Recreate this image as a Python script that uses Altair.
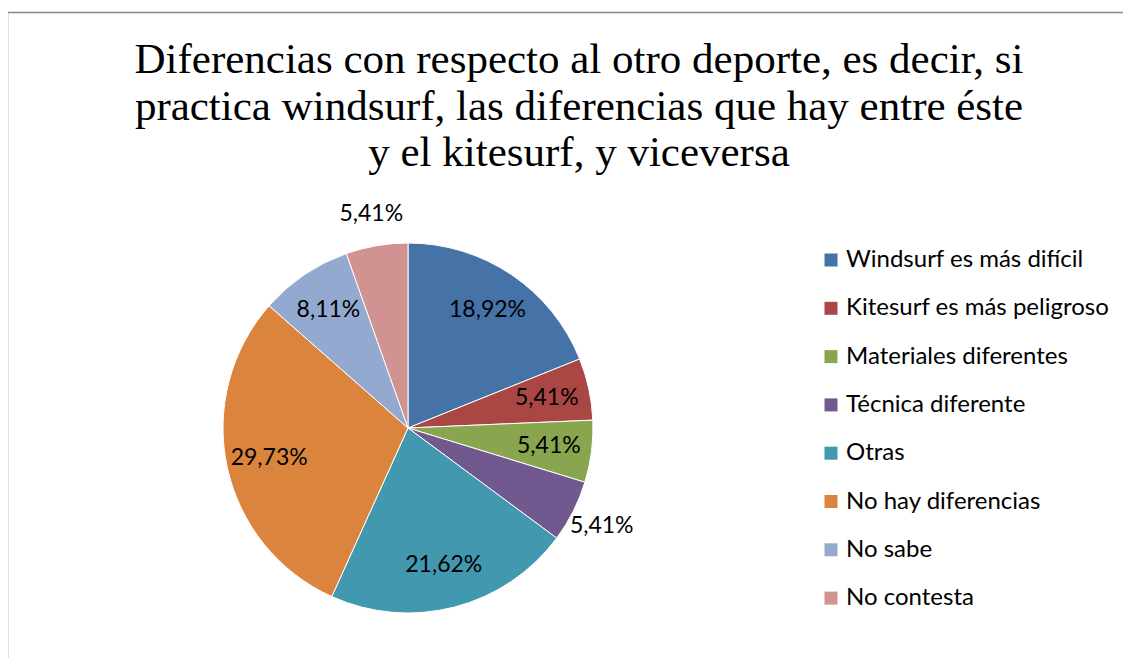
import altair as alt
import pandas as pd

title_lines = [
    "Diferencias con respecto al otro deporte, es decir, si",
    "practica windsurf, las diferencias que hay entre éste",
    "y el kitesurf, y viceversa",
]
categories = [
    "Windsurf es más difícil",
    "Kitesurf es más peligroso",
    "Materiales diferentes",
    "Técnica diferente",
    "Otras",
    "No hay diferencias",
    "No sabe",
    "No contesta",
]
values = [18.92, 5.41, 5.41, 5.41, 21.62, 29.73, 8.11, 5.41]
labels = ["18,92%", "5,41%", "5,41%", "5,41%", "21,62%", "29,73%", "8,11%", "5,41%"]
outside = [False, False, False, True, False, False, False, True]
colors = ["#4572A7", "#AA4643", "#89A54E", "#71588F", "#4198AF", "#DB843D", "#93A9CF", "#D19392"]

df = pd.DataFrame({
    "cat": categories,
    "value": values,
    "label": labels,
    "outside": outside,
    "idx": list(range(len(categories))),
})

CX, CY, R = 400, 420, 185

base = alt.Chart(df).encode(
    theta=alt.Theta("value:Q", stack=True),
    order=alt.Order("idx:Q", sort="ascending"),
)

arcs = base.mark_arc(radius=R, stroke="white", strokeWidth=1).encode(
    x=alt.value(CX),
    y=alt.value(CY),
    color=alt.Color(
        "cat:N",
        sort=categories,
        scale=alt.Scale(domain=categories, range=colors),
        legend=alt.Legend(
            title=None,
            orient="none",
            legendX=811,
            legendY=240,
            padding=0,
            symbolType="square",
            symbolSize=169,
            symbolStrokeWidth=0,
            labelFont="Lato",
            labelFontSize=24,
            labelColor="black",
            labelOffset=3,
            rowPadding=24.3,
            labelLimit=400,
        ),
    ),
)

texts_in = base.transform_calculate(
    t="datum.outside ? '' : datum.label"
).mark_text(font="Lato", fontSize=23, color="black", radius=142).encode(
    x=alt.value(CX),
    y=alt.value(CY),
    text="t:N",
)

texts_out = base.transform_calculate(
    t="datum.outside ? datum.label : ''"
).mark_text(font="Lato", fontSize=23, color="black", radius=217).encode(
    x=alt.value(CX),
    y=alt.value(CY),
    text="t:N",
)

title = alt.Chart(pd.DataFrame({"t": [0]})).mark_text(
    text=title_lines,
    font="Liberation Serif",
    fontSize=43,
    lineHeight=46.5,
    baseline="alphabetic",
    align="center",
    color="black",
).encode(x=alt.value(571), y=alt.value(65))

border_top = alt.Chart(pd.DataFrame({"t": [0]})).mark_rule(
    color="#868686", strokeWidth=1.5
).encode(x=alt.value(-1), x2=alt.value(1130), y=alt.value(4.5))
border_left = alt.Chart(pd.DataFrame({"t": [0]})).mark_rule(
    color="#868686", strokeWidth=1.5
).encode(x=alt.value(-0.5), y=alt.value(4), y2=alt.value(700))

chart = alt.layer(border_top, border_left, title, arcs, texts_in, texts_out).properties(
    width=1115,
    height=650,
    autosize=alt.AutoSizeParams(type="none"),
    padding=0,
).configure_view(stroke=None)

chart.save("out.html", embed_options={"renderer": "svg", "actions": False})
